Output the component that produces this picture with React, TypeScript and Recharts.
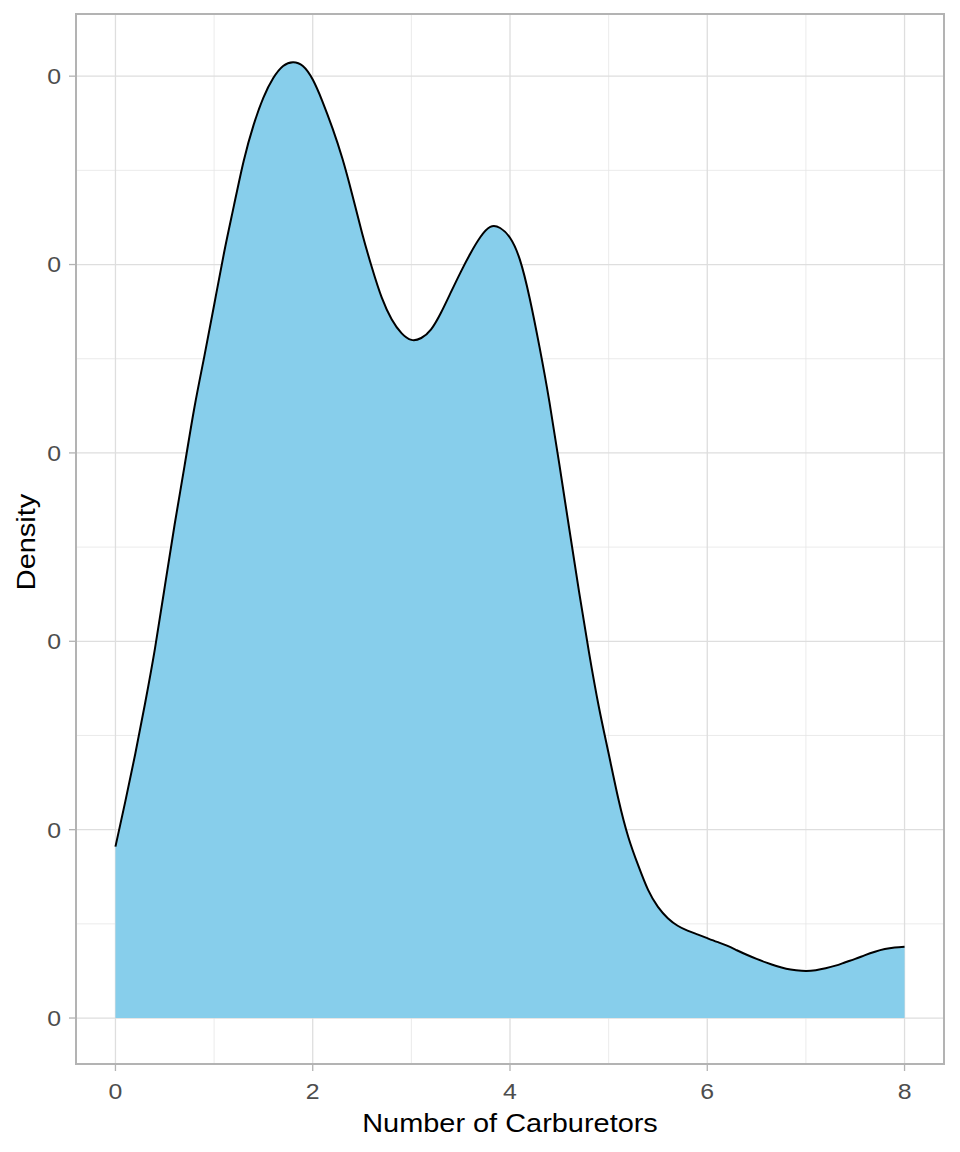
import React from "react";
import {
  AreaChart,
  Area,
  XAxis,
  YAxis,
  CartesianGrid,
  ReferenceArea,
} from "recharts";

// Number of carburetors (x positions of the density estimate)
const carbGrid = [
  0.0, 0.1, 0.2, 0.3, 0.4, 0.5, 0.6, 0.7, 0.8, 0.9,
  1.0, 1.1, 1.2, 1.3, 1.4, 1.5, 1.6, 1.7, 1.8, 1.9,
  2.0, 2.1, 2.2, 2.3, 2.4, 2.5, 2.6, 2.7, 2.8, 2.9,
  3.0, 3.1, 3.2, 3.3, 3.4, 3.5, 3.6, 3.7, 3.8, 3.9,
  4.0, 4.1, 4.2, 4.3, 4.4, 4.5, 4.6, 4.7, 4.8, 4.9,
  5.0, 5.1, 5.2, 5.3, 5.4, 5.5, 5.6, 5.7, 5.8, 5.9,
  6.0, 6.1, 6.2, 6.3, 6.4, 6.5, 6.6, 6.7, 6.8, 6.9,
  7.0, 7.1, 7.2, 7.3, 7.4, 7.5, 7.6, 7.7, 7.8, 7.9,
  8.0,
];

// Density values
const densityValues = [
  0.0455, 0.0575, 0.07, 0.0835, 0.098, 0.1145, 0.131, 0.1465, 0.162, 0.1755,
  0.1892, 0.203, 0.2155, 0.2275, 0.237, 0.2443, 0.2495, 0.2527, 0.2537, 0.2527,
  0.2491, 0.2432, 0.2362, 0.2282, 0.2186, 0.2084, 0.1992, 0.1912, 0.1855, 0.1818,
  0.18, 0.1805, 0.1828, 0.1872, 0.1926, 0.198, 0.203, 0.2073, 0.21, 0.2097,
  0.2071, 0.2013, 0.191, 0.178, 0.1635, 0.147, 0.13, 0.1132, 0.0972, 0.0827,
  0.0702, 0.058, 0.048, 0.0405, 0.034, 0.0295, 0.0265, 0.0245, 0.0232, 0.0222,
  0.0212, 0.0202, 0.0192, 0.018, 0.0168, 0.0157, 0.0147, 0.0138, 0.0131, 0.0127,
  0.0125, 0.0127, 0.0132, 0.0139, 0.0148, 0.0157, 0.0167, 0.0176, 0.0183, 0.0187,
  0.0189,
];

const xTicks = [0, 2, 4, 6, 8];
const xMinor = [1, 3, 5, 7];
const yTicks = [0, 0.05, 0.1, 0.15, 0.2, 0.25];
const yMinor = [0.025, 0.075, 0.125, 0.175, 0.225];
const xDomain: [number, number] = [-0.4, 8.4];
const yDomain: [number, number] = [-0.0122, 0.2665];

const data = carbGrid.map((x, i) => ({ carb: x, density: densityValues[i] }));

const FONT = "'Liberation Sans', Arial, sans-serif";
const STRETCH = 1.13;

const XTick = (props: any) => {
  const { x, payload } = props;
  return (
    <g transform={`translate(${x},1099)`}>
      <text
        transform={`scale(${STRETCH},1)`}
        textAnchor="middle"
        fontFamily={FONT}
        fontSize={22}
        fill="#4D4D4D"
      >
        {String(Math.round(payload.value))}
      </text>
    </g>
  );
};

const YTick = (props: any) => {
  const { y, payload } = props;
  return (
    <g transform={`translate(61,${y})`}>
      <text
        transform={`scale(${STRETCH},1)`}
        textAnchor="end"
        dy="0.36em"
        fontFamily={FONT}
        fontSize={22}
        fill="#4D4D4D"
      >
        {String(Math.round(payload.value))}
      </text>
    </g>
  );
};

const XTitle = () => (
  <g transform="translate(510,1131.5)">
    <text
      transform={`scale(${STRETCH},1)`}
      textAnchor="middle"
      fontFamily={FONT}
      fontSize={25.6}
      fill="#000000"
    >
      Number of Carburetors
    </text>
  </g>
);

const YTitle = () => (
  <g transform="translate(35,542) rotate(-90)">
    <text
      transform={`scale(${STRETCH},1)`}
      textAnchor="middle"
      fontFamily={FONT}
      fontSize={25.6}
      fill="#000000"
    >
      Density
    </text>
  </g>
);

export default function App() {
  return (
    <div style={{ position: "absolute", left: 0, top: 0, width: 960, height: 1152, background: "#ffffff" }}>
      <AreaChart
        width={960}
        height={1152}
        data={data}
        margin={{ top: 14, right: 16, bottom: 0, left: 0 }}
      >
        <CartesianGrid
          horizontalValues={yMinor}
          verticalValues={xMinor}
          stroke="#E6E6E6"
          strokeWidth={0.8}
        />
        <CartesianGrid
          horizontalValues={yTicks}
          verticalValues={xTicks}
          stroke="#DEDEDE"
          strokeWidth={1.3}
        />
        <XAxis
          dataKey="carb"
          type="number"
          domain={xDomain}
          ticks={xTicks}
          allowDataOverflow
          height={88}
          axisLine={false}
          tickLine={{ stroke: "#B3B3B3", strokeWidth: 1.3 }}
          tickSize={7}
          tick={<XTick />}
          label={{ content: () => <XTitle /> }}
        />
        <YAxis
          type="number"
          domain={yDomain}
          ticks={yTicks}
          allowDataOverflow
          width={76}
          axisLine={false}
          tickLine={{ stroke: "#B3B3B3", strokeWidth: 1.3 }}
          tickSize={7}
          tick={<YTick />}
          label={{ content: () => <YTitle /> }}
        />
        <Area
          type="natural"
          dataKey="density"
          baseValue={0}
          fill="#87CEEB"
          fillOpacity={1}
          stroke="#000000"
          strokeWidth={2}
          isAnimationActive={false}
          dot={false}
          activeDot={false}
        />
        <ReferenceArea
          x1={xDomain[0]}
          x2={xDomain[1]}
          y1={yDomain[0]}
          y2={yDomain[1]}
          fill="none"
          fillOpacity={0}
          stroke="#B3B3B3"
          strokeWidth={2}
          ifOverflow="visible"
        />
      </AreaChart>
    </div>
  );
}
